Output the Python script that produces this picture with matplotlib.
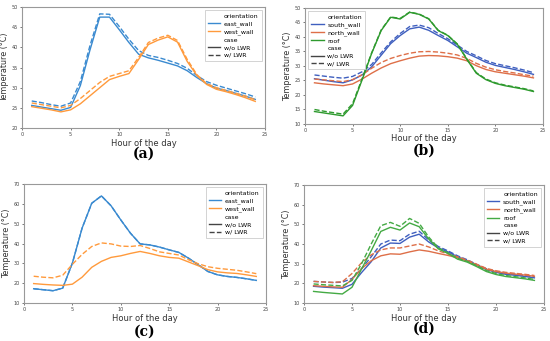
import numpy as np
import matplotlib
matplotlib.use("Agg")
import matplotlib.pyplot as plt
from matplotlib.lines import Line2D

hours = list(range(1, 25))

# panel (a)
a_east_wo = [25.6, 25.2, 24.8, 24.4, 25.1, 30.5, 39.4, 47.5, 47.5, 44.4, 41.2, 38.3,
             37.4, 36.8, 36.1, 35.4, 34.2, 32.5, 31.0, 29.9, 29.3, 28.6, 27.9, 27.1]
a_east_w = [26.7, 26.3, 25.8, 25.4, 26.2, 31.5, 40.5, 48.3, 48.2, 45.2, 42.0, 39.2,
            38.0, 37.5, 36.8, 36.0, 34.8, 33.0, 31.5, 30.6, 29.9, 29.2, 28.5, 27.7]
a_west_wo = [25.3, 24.9, 24.5, 24.0, 24.5, 26.0, 28.0, 30.0, 32.0, 32.8, 33.5, 37.0,
             40.7, 41.8, 42.6, 41.3, 36.5, 33.0, 30.8, 29.6, 29.0, 28.3, 27.5, 26.6]
a_west_w = [26.2, 25.8, 25.4, 25.0, 25.6, 27.3, 29.3, 31.3, 32.8, 33.5, 34.2, 37.5,
            41.2, 42.3, 43.0, 41.7, 37.0, 33.2, 31.0, 30.0, 29.3, 28.6, 27.9, 27.0]

# panel (b)
b_south_wo = [25.6, 25.1, 24.6, 24.2, 25.2, 26.9, 29.7, 33.7, 37.7, 40.5, 42.8, 43.4,
              42.3, 40.5, 38.8, 36.6, 34.4, 32.9, 31.3, 30.2, 29.5, 28.8, 28.0, 27.1]
b_south_w = [26.9, 26.5, 26.1, 25.8, 26.4, 28.0, 30.5, 34.5, 38.3, 41.2, 43.6, 44.1,
             43.2, 41.2, 39.4, 37.2, 35.0, 33.5, 31.9, 30.8, 30.1, 29.4, 28.6, 27.7]
b_north_wo = [24.2, 23.8, 23.5, 23.2, 23.8, 25.5, 27.5, 29.3, 30.8, 31.8, 32.7, 33.4,
              33.6, 33.5, 33.2, 32.7, 31.8, 30.1, 28.8, 28.0, 27.5, 27.0, 26.5, 25.9]
b_north_w = [25.5, 25.2, 24.9, 24.6, 25.3, 27.0, 29.2, 31.2, 32.6, 33.6, 34.4, 34.9,
             35.0, 34.8, 34.4, 33.8, 32.6, 30.9, 29.6, 28.7, 28.1, 27.6, 27.0, 26.5]
b_roof_wo = [14.3, 13.8, 13.3, 12.8, 16.4, 25.2, 34.3, 42.2, 46.8, 46.2, 48.5, 47.8,
             46.2, 42.2, 40.5, 37.5, 32.3, 27.5, 25.3, 24.0, 23.2, 22.6, 22.0, 21.2]
b_roof_w = [15.0, 14.4, 13.9, 13.4, 17.0, 25.6, 34.5, 42.4, 46.9, 46.4, 48.6, 47.9,
            46.3, 42.3, 40.6, 37.6, 32.5, 27.7, 25.5, 24.2, 23.4, 22.8, 22.2, 21.4]

# panel (c)
c_east_wo = [17.2, 16.7, 16.2, 17.5, 30.1, 47.7, 60.3, 64.0, 59.0, 51.9, 45.2, 39.8,
             39.3, 38.2, 36.8, 35.5, 32.6, 29.3, 25.9, 24.2, 23.4, 22.9, 22.2, 21.4]
c_east_w = c_east_wo
c_west_wo = [19.8, 19.4, 19.1, 18.9, 19.5, 23.0, 28.0, 31.0, 33.0, 33.8, 35.0, 36.0,
             35.0, 33.8, 33.0, 32.6, 30.7, 28.8, 26.8, 25.7, 25.2, 24.9, 24.2, 23.4]
c_west_w = [23.5, 23.0, 22.7, 24.0, 29.5, 34.5, 38.5, 40.3, 39.8, 38.7, 38.5, 39.0,
            37.5, 35.8, 35.0, 34.2, 31.8, 29.8, 28.3, 27.5, 27.0, 26.5, 25.7, 24.8]

# panel (d)
d_south_wo = [18.5, 18.1, 17.8, 17.5, 19.5, 25.5, 31.0, 38.0, 40.5, 40.3, 43.5, 45.0,
              41.0, 38.0, 36.0, 33.5, 31.5, 29.2, 27.0, 25.6, 24.6, 24.1, 23.5, 22.8]
d_south_w = [21.0, 20.7, 20.4, 20.6, 22.5, 27.5, 33.5, 40.0, 42.0, 41.7, 45.0, 46.5,
             42.0, 38.7, 36.5, 34.0, 32.0, 29.6, 27.4, 26.0, 25.0, 24.5, 24.0, 23.3]
d_north_wo = [18.8, 18.5, 18.2, 18.0, 22.0, 27.5, 31.5, 34.0, 35.0, 34.8, 36.0, 37.0,
              36.3, 35.2, 34.2, 33.0, 31.3, 29.3, 27.2, 26.0, 25.2, 24.7, 24.2, 23.6]
d_north_w = [21.0, 20.7, 20.5, 20.8, 25.0, 30.5, 34.5, 37.0, 38.0, 38.0, 39.0, 40.0,
             38.5, 36.5, 35.0, 33.5, 31.8, 29.7, 27.6, 26.4, 25.6, 25.1, 24.6, 24.0]
d_roof_wo = [15.9, 15.4, 15.0, 14.6, 18.0, 27.3, 36.6, 46.4, 48.5, 47.1, 50.7, 48.8,
             42.5, 37.5, 35.2, 32.3, 30.8, 28.5, 26.0, 24.5, 23.5, 22.9, 22.3, 21.5]
d_roof_w = [19.7, 19.3, 19.0, 18.7, 21.5, 30.0, 40.0, 49.3, 51.0, 49.0, 53.0, 50.5,
            43.5, 38.0, 35.5, 32.7, 31.2, 29.0, 26.5, 25.0, 24.0, 23.4, 22.8, 22.0]

c_east = '#3a8ad0'
c_west = '#ff9a3c'
c_south = '#3f5fbf'
c_north = '#de6f48'
c_roof = '#2e9a2e'
c_roof_d = '#44aa44'

fig = plt.figure(figsize=(5.5, 3.41), dpi=100)


def make_panel(rect, series, ylim, yticks, label, label_y, legend_loc, xpad=1.5):
    ax = fig.add_axes(rect)
    for name, col, wo, w in series:
        ax.plot(hours, wo, color=col, lw=1.0, ls='-')
        ax.plot(hours, w, color=col, lw=1.0, ls='--')
    ax.set_xlim(0, 25)
    ax.set_ylim(*ylim)
    ax.set_xticks([0, 5, 10, 15, 20, 25])
    ax.set_yticks(yticks)
    ax.tick_params(labelsize=3.5, length=1.5, width=0.5, colors='#444444', pad=1.5)
    for s in ax.spines.values():
        s.set_color('#999999')
        s.set_linewidth(0.8)
    ax.set_xlabel('Hour of the day', fontsize=6, color='#333333', labelpad=xpad)
    ax.set_ylabel('Temperature (°C)', fontsize=5.8, color='#333333', labelpad=1.5)

    blank = Line2D([], [], color='none')
    handles = [blank]
    labels = ['orientation']
    for name, col, wo, w in series:
        handles.append(Line2D([], [], color=col, lw=1.0))
        labels.append(name)
    handles += [blank, Line2D([], [], color='#444444', lw=1.0),
                Line2D([], [], color='#444444', lw=1.0, ls='--')]
    labels += ['case', 'w/o LWR', 'w/ LWR']
    leg = ax.legend(handles, labels, loc=legend_loc, fontsize=4.5,
                    handlelength=2.0, handletextpad=0.6, borderpad=0.5,
                    labelspacing=0.35, framealpha=1, edgecolor='#cccccc',
                    fancybox=False)
    leg.get_frame().set_linewidth(0.6)
    # panel letter below the x label
    x0, w0 = rect[0], rect[2]
    fig.text(x0 + w0 * 0.5, label_y, label, fontsize=10, fontweight='bold',
             family='DejaVu Serif', ha='center', va='top')
    return ax


make_panel([0.040, 0.6246, 0.4418, 0.3548],
           [('east_wall', c_east, a_east_wo, a_east_w),
            ('west_wall', c_west, a_west_wo, a_west_w)],
           (20, 50), [20, 25, 30, 35, 40, 45, 50], '(a)', 1 - 147 / 341, 'upper right')

make_panel([0.5545, 0.6364, 0.4327, 0.3402],
           [('south_wall', c_south, b_south_wo, b_south_w),
            ('north_wall', c_north, b_north_wo, b_north_w),
            ('roof', c_roof, b_roof_wo, b_roof_w)],
           (10, 50), [10, 15, 20, 25, 30, 35, 40, 45, 50], '(b)', 1 - 143.5 / 341, 'upper left',
           xpad=0.5)

make_panel([0.0436, 0.1114, 0.44, 0.349],
           [('east_wall', c_east, c_east_wo, c_east_w),
            ('west_wall', c_west, c_west_wo, c_west_w)],
           (10, 70), [10, 20, 30, 40, 50, 60, 70], '(c)', 1 - 325 / 341, 'upper right')

make_panel([0.5527, 0.1114, 0.4364, 0.346],
           [('south_wall', c_south, d_south_wo, d_south_w),
            ('north_wall', c_north, d_north_wo, d_north_w),
            ('roof', c_roof_d, d_roof_wo, d_roof_w)],
           (10, 70), [10, 20, 30, 40, 50, 60, 70], '(d)', 1 - 322 / 341, 'upper right')

fig.savefig('out.png', dpi=100)
